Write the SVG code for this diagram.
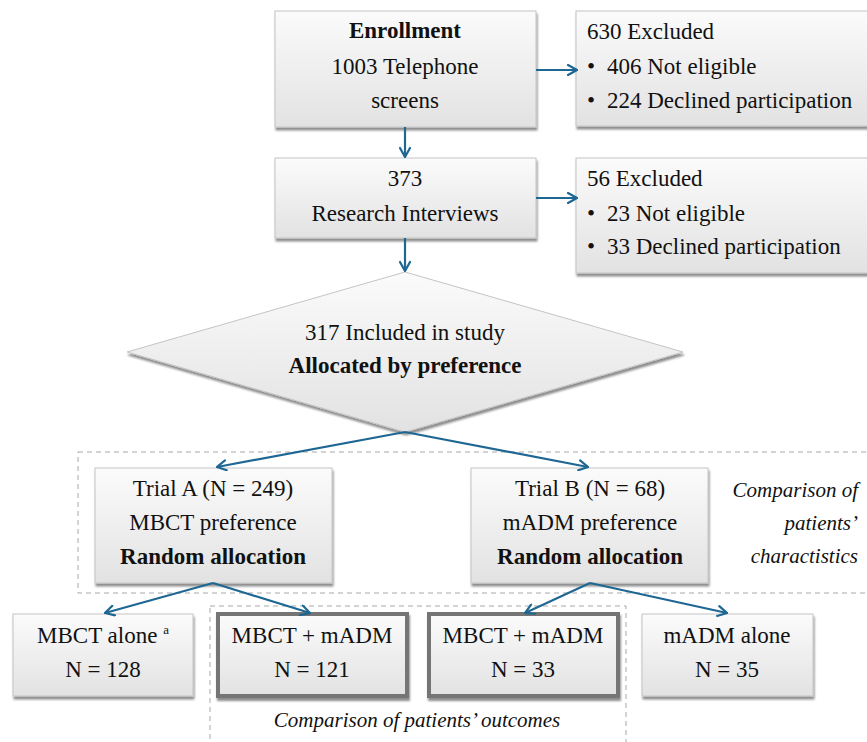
<svg xmlns="http://www.w3.org/2000/svg" width="867" height="742" viewBox="0 0 867 742">
<defs>
<linearGradient id="g" x1="0" y1="0" x2="0" y2="1">
<stop offset="0" stop-color="#fbfbfb"/>
<stop offset="1" stop-color="#e2e2e2"/>
</linearGradient>
<filter id="sh" x="-10%" y="-10%" width="120%" height="130%">
<feGaussianBlur in="SourceAlpha" stdDeviation="1.2"/>
<feOffset dx="1" dy="2.5" result="o"/>
<feComponentTransfer><feFuncA type="linear" slope="0.45"/></feComponentTransfer>
<feMerge><feMergeNode/><feMergeNode in="SourceGraphic"/></feMerge>
</filter>
<marker id="ah" viewBox="0 0 12 12" refX="11" refY="6" markerWidth="12" markerHeight="12" markerUnits="userSpaceOnUse" orient="auto">
<path d="M2,1 L11,6 L2,11" fill="none" stroke="#1f6793" stroke-width="2.2" stroke-linecap="round" stroke-linejoin="miter"/>
</marker>
</defs>
<style>
.box{fill:url(#g);stroke:#c4c4c4;stroke-width:1;filter:url(#sh)}
.thick{fill:url(#g);stroke:#747474;stroke-width:4;filter:url(#sh)}
.t{font-family:"Liberation Serif","Times New Roman",serif;font-size:23px;fill:#111}
.c{text-anchor:middle}
.b{font-weight:bold}
.i{font-style:italic;font-size:21px}
.r{text-anchor:end}
.con line{stroke:#1f6793;stroke-width:2.2;marker-end:url(#ah)}
.dash{fill:none;stroke:#a8a8a8;stroke-width:1;stroke-dasharray:5,4}
</style>
<rect width="867" height="742" fill="#ffffff"/>

<g id="group-characteristics">
<rect class="dash" x="78" y="452" width="800" height="141"/>
<text class="t i r" x="858" y="497">Comparison of</text>
<text class="t i r" x="858" y="530">patients’</text>
<text class="t i r" x="858" y="563">charactistics</text>
</g>
<g id="group-outcomes">
<rect class="dash" x="210" y="606" width="416" height="150"/>
<text class="t i c" x="417" y="727">Comparison of patients’ outcomes</text>
</g>

<g id="enrollment">
<rect class="box" x="275" y="11" width="261" height="116"/>
<text class="t c b" x="405" y="38">Enrollment</text>
<text class="t c" x="405" y="74">1003 Telephone</text>
<text class="t c" x="405" y="108">screens</text>
</g>
<g id="excluded1">
<rect class="box" x="576" y="11" width="300" height="115"/>
<text class="t" x="587" y="39">630 Excluded</text>
<text class="t" x="587" y="74">•</text>
<text class="t" x="607" y="74">406 Not eligible</text>
<text class="t" x="587" y="108">•</text>
<text class="t" x="607" y="108">224 Declined participation</text>
</g>
<g id="interviews">
<rect class="box" x="275" y="158" width="261" height="80"/>
<text class="t c" x="405" y="186">373</text>
<text class="t c" x="405" y="221">Research Interviews</text>
</g>
<g id="excluded2">
<rect class="box" x="576" y="158" width="300" height="115"/>
<text class="t" x="587" y="186">56 Excluded</text>
<text class="t" x="587" y="221">•</text>
<text class="t" x="607" y="221">23 Not eligible</text>
<text class="t" x="587" y="254">•</text>
<text class="t" x="607" y="254">33 Declined participation</text>
</g>
<g id="included">
<polygon class="box" points="405,272 683,352 405,432 127,352"/>
<text class="t c" x="405" y="340">317 Included in study</text>
<text class="t c b" x="405" y="373">Allocated by preference</text>
</g>
<g id="trialA">
<rect class="box" x="95" y="468" width="237" height="115"/>
<text class="t c" x="213" y="496">Trial A (N = 249)</text>
<text class="t c" x="213" y="530">MBCT preference</text>
<text class="t c b" x="213" y="564">Random allocation</text>
</g>
<g id="trialB">
<rect class="box" x="471" y="468" width="237" height="115"/>
<text class="t c" x="590" y="496">Trial B (N = 68)</text>
<text class="t c" x="590" y="530">mADM preference</text>
<text class="t c b" x="590" y="564">Random allocation</text>
</g>
<g id="mbct-alone">
<rect class="box" x="13" y="614" width="180" height="82"/>
<text class="t c" x="103" y="643">MBCT alone <tspan font-size="13" dy="-9">a</tspan></text>
<text class="t c" x="103" y="677">N = 128</text>
</g>
<g id="combo-a">
<rect class="thick" x="218" y="614" width="189" height="82"/>
<text class="t c" x="312" y="643">MBCT + mADM</text>
<text class="t c" x="312" y="677">N = 121</text>
</g>
<g id="combo-b">
<rect class="thick" x="429" y="614" width="189" height="82"/>
<text class="t c" x="523" y="643">MBCT + mADM</text>
<text class="t c" x="523" y="677">N = 33</text>
</g>
<g id="madm-alone">
<rect class="box" x="642" y="614" width="171" height="82"/>
<text class="t c" x="727" y="643">mADM alone</text>
<text class="t c" x="727" y="677">N = 35</text>
</g>

<g class="con" id="connectors">
<line x1="536" y1="70" x2="577" y2="70"/>
<line x1="405" y1="127" x2="405" y2="157"/>
<line x1="536" y1="198" x2="577" y2="198"/>
<line x1="405" y1="238" x2="405" y2="271"/>
<line x1="405" y1="432" x2="217" y2="467"/>
<line x1="405" y1="432" x2="588" y2="467"/>
<line x1="213" y1="583" x2="105" y2="613"/>
<line x1="213" y1="583" x2="310" y2="613"/>
<line x1="590" y1="583" x2="525" y2="613"/>
<line x1="590" y1="583" x2="727" y2="613"/>
</g>
</svg>
